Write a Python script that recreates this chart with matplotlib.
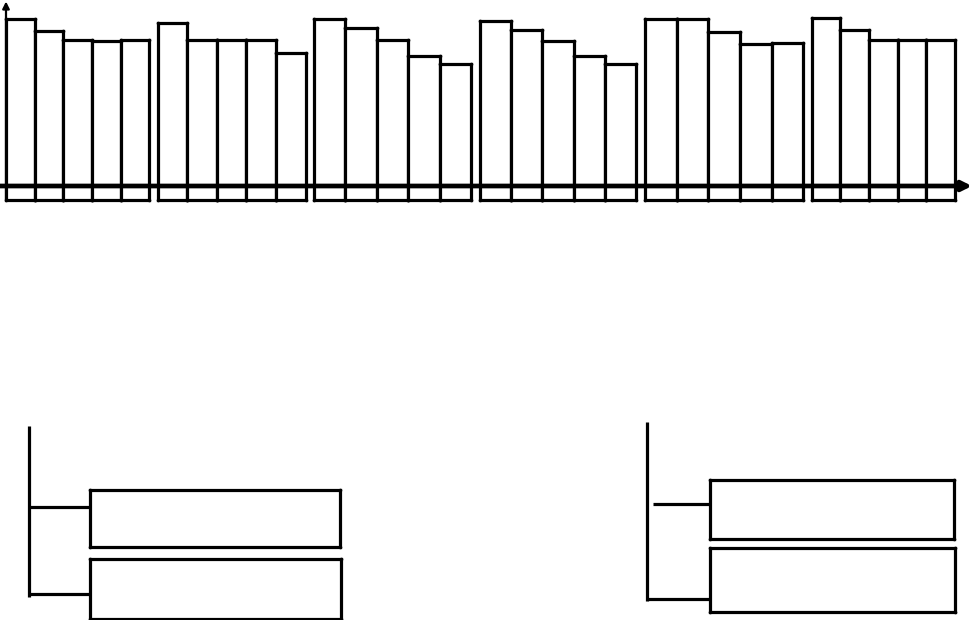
import numpy as np
import matplotlib
matplotlib.use('Agg')
import matplotlib.pyplot as plt

# top chart: 6 groups of 5 bars (height above the axis line)
group_1 = [100.0, 92.8, 87.4, 86.8, 87.4]
group_2 = [97.6, 87.4, 87.4, 87.4, 79.6]
group_3 = [100.0, 94.6, 87.4, 77.8, 73.1]
group_4 = [98.8, 93.4, 86.8, 77.8, 73.1]
group_5 = [100.0, 100.0, 92.2, 85.0, 85.6]
group_6 = [100.6, 93.4, 87.4, 87.4, 87.4]

# bottom panels: two horizontal bars each
left_values = [250, 251]
right_values = [244, 245]

W, H = 975, 620
LW = 2.3

# relative bar width of each group (groups are drawn a bit unevenly)
group_scale = [0.95, 0.98, 1.04, 1.04, 1.05, 0.95]


def px_axes(fig, x0, y0, x1, y1):
    """Add axes covering a pixel box (origin at top-left)."""
    ax = fig.add_axes([x0 / W, 1 - y1 / H, (x1 - x0) / W, (y1 - y0) / H])
    ax.axis('off')
    return ax


def corner_dots(ax, xs, ys):
    ax.scatter(xs, ys, s=7, color='black', zorder=6, linewidths=0)


fig = plt.figure(figsize=(W / 100, H / 100), dpi=100)

# ---------------- top bar chart ----------------
groups = [group_1, group_2, group_3, group_4, group_5, group_6]
gap = 0.285
total = 5 * sum(group_scale) + 5 * gap
bar_px = 949 / total
ax = px_axes(fig, 0, 0, W, 210)
ax.set_xlim(-6 / bar_px, (W - 6) / bar_px)
ax.set_ylim(-(210 - 186) * 100 / 167, 186 * 100 / 167)
base = -8.4

start = 0.0
for vals, sc in zip(groups, group_scale):
    lefts = start + np.arange(5) * sc
    vals = np.array(vals)
    ax.bar(lefts, vals - base, bottom=base, width=sc, align='edge',
           facecolor='white', edgecolor='black', linewidth=LW, zorder=2)
    xs = np.concatenate([lefts, lefts + sc, lefts, lefts + sc])
    ys = np.concatenate([vals, vals, np.full(5, base), np.full(5, base)])
    corner_dots(ax, xs, ys)
    start += 5 * sc + gap

x_end = (972 - 6) / bar_px
ax.annotate('', xy=(x_end, 0), xytext=(-6 / bar_px, 0),
            arrowprops=dict(arrowstyle='-|>', lw=3.4, color='black',
                            mutation_scale=14, shrinkA=0, shrinkB=0),
            zorder=5)
ax.annotate('', xy=(0, 110.5), xytext=(0, base),
            arrowprops=dict(arrowstyle='-|>', lw=1.6, color='black',
                            mutation_scale=10, shrinkA=0, shrinkB=0),
            zorder=5)


# ---------------- bottom panels ----------------
def hbar_panel(box, values, axis_x, bar_gap, centre_px, axis_span,
               heights, stem_offsets, stem_start):
    x0, y0, x1, y1 = box
    ax = px_axes(fig, x0, y0, x1, y1)
    unit = 70.5
    ax.set_xlim(x0 - axis_x, x1 - axis_x)
    ax.set_ylim((y1 - centre_px) / unit, (y0 - centre_px) / unit)
    pos = np.arange(len(values))
    ax.barh(pos, values, height=heights, left=bar_gap,
            facecolor='white', edgecolor='black', linewidth=LW, zorder=2)
    ax.plot([0, 0], axis_span, color='black', lw=LW, solid_capstyle='butt')
    for p, off, s in zip(pos, stem_offsets, stem_start):
        ax.plot([s, bar_gap], [p + off, p + off], color='black', lw=LW,
                solid_capstyle='butt')
    xs, ys = [], []
    for p, v, h in zip(pos, values, heights):
        for cx in (bar_gap, bar_gap + v):
            for cy in (p - h / 2, p + h / 2):
                xs.append(cx)
                ys.append(cy)
    corner_dots(ax, xs, ys)


hbar_panel((0, 415, 370, 620), left_values, axis_x=29, bar_gap=61,
           centre_px=518.5, axis_span=[-1.31, 1.11], heights=[0.81, 0.85],
           stem_offsets=[-0.16, 0.07], stem_start=[0, 0])
hbar_panel((610, 415, 975, 620), right_values, axis_x=647, bar_gap=63,
           centre_px=509.5, axis_span=[-1.24, 1.30], heights=[0.84, 0.9],
           stem_offsets=[-0.08, 0.27], stem_start=[6, 0])

fig.savefig('out.png', dpi=100)
